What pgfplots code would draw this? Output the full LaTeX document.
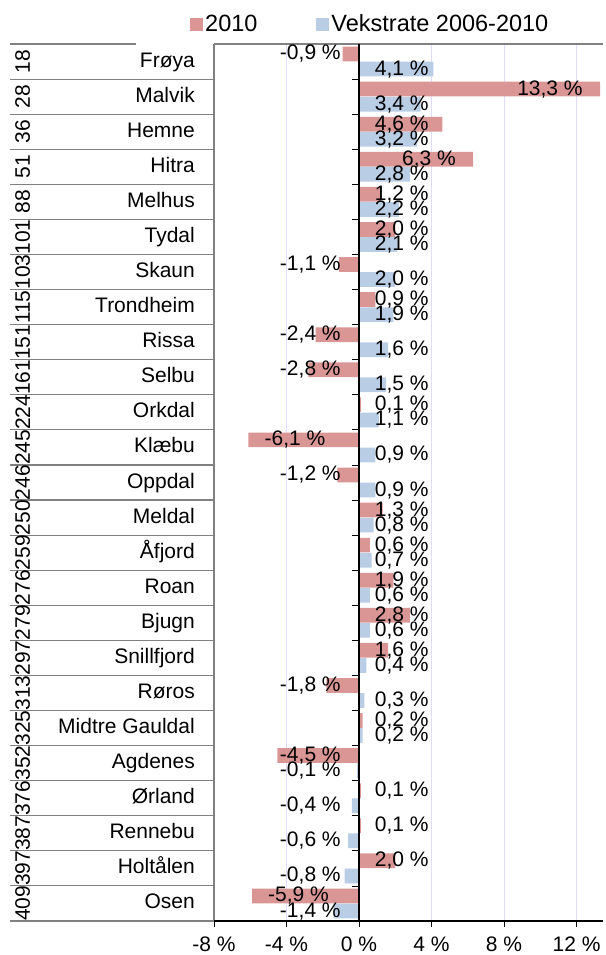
\documentclass[border=0pt]{standalone}
\usepackage{pgfplots}
\pgfplotsset{compat=1.18}
\usepackage{pgfplotstable}
\usepackage{fontspec}
\setmainfont{Liberation Sans}

\definecolor{redbar}{RGB}{217,150,148}
\definecolor{bluebar}{RGB}{185,205,229}
\definecolor{gridc}{RGB}{221,221,248}
\definecolor{tabline}{RGB}{128,128,128}

\pgfplotstableread[col sep=comma]{
rank,name,v2010,vekst
18,Frøya,-0.9,4.1
28,Malvik,13.3,3.4
36,Hemne,4.6,3.2
51,Hitra,6.3,2.8
88,Melhus,1.2,2.2
101,Tydal,2.0,2.1
103,Skaun,-1.1,2.0
115,Trondheim,0.9,1.9
151,Rissa,-2.4,1.6
161,Selbu,-2.8,1.5
224,Orkdal,0.1,1.1
245,Klæbu,-6.1,0.9
246,Oppdal,-1.2,0.9
250,Meldal,1.3,0.8
259,Åfjord,0.6,0.7
276,Roan,1.9,0.6
279,Bjugn,2.8,0.6
297,Snillfjord,1.6,0.4
313,Røros,-1.8,0.3
325,Midtre Gauldal,0.2,0.2
352,Agdenes,-4.5,-0.1
376,Ørland,0.1,-0.4
387,Rennebu,0.1,-0.6
397,Holtålen,2.0,-0.8
409,Osen,-5.9,-1.4
}\kommuner

\newcommand{\lblfont}{\fontsize{21}{25}\selectfont}

\begin{document}
\begin{tikzpicture}
\begin{axis}[
    scale only axis, width=389pt, height=877pt,
    xmin=-8, xmax=13.46, ymin=-0.5, ymax=24.5, y dir=reverse,
    axis line style={draw=none},
    clip=false,
    xtick={-8,-4,0,4,8,12}, xtick pos=bottom,
    xticklabel={\pgfmathprintnumber{\tick}~\%},
    xticklabel style={inner sep=0pt, yshift=-10pt},
    xtick style={draw=black, line width=0.8pt},
    ytick={0,...,24}, yticklabels from table={\kommuner}{name},
    ytick pos=left, ytick style={draw=none},
    yticklabel style={inner sep=0pt, xshift=-13pt, text height=15pt, text depth=4pt},
    tick align=outside, major tick length=6pt,
    tick label style={font=\lblfont},
    xmajorgrids, major grid style={draw=gridc, line width=0.9pt},
    /pgf/number format/assume math mode=true,
    legend columns=2,
    legend style={at={(axis description cs:0,1)}, anchor=west, xshift=-24pt, yshift=20pt,
        draw=none, fill=none, inner sep=0pt, font=\fontsize{23.5}{28}\selectfont,
        nodes={inner sep=2pt},
        /tikz/every even column/.append style={column sep=57pt}},
    legend image code/.code={\fill[#1] (0pt,-7pt) rectangle (13pt,6pt);},
]
\addplot[xbar, bar width=0.42, bar shift=-0.215, fill=redbar, draw=none]
    table[x=v2010, y expr=\coordindex] {\kommuner};
\addplot[xbar, bar width=0.42, bar shift=0.215, fill=bluebar, draw=none]
    table[x=vekst, y expr=\coordindex] {\kommuner};
\legend{2010, Vekstrate 2006-2010}

% data labels
\addplot[draw=none, forget plot, point meta=\thisrow{v2010},
    nodes near coords={\pgfmathprintnumber[fixed,fixed zerofill,precision=1,use comma]{\pgfplotspointmeta}~\%},
    every node near coord/.append style={anchor=east, inner sep=0pt, font=\lblfont, text height=15pt, text depth=3pt}]
    table[x expr={\thisrow{v2010}>0 ? max(\thisrow{v2010}-0.95,3.85) : min(\thisrow{v2010}+4.25,-1.0)},
          y expr=\coordindex-0.215] {\kommuner};
\addplot[draw=none, forget plot, point meta=\thisrow{vekst},
    nodes near coords={\pgfmathprintnumber[fixed,fixed zerofill,precision=1,use comma]{\pgfplotspointmeta}~\%},
    every node near coord/.append style={anchor=east, inner sep=0pt, font=\lblfont, text height=15pt, text depth=3pt}]
    table[x expr={\thisrow{vekst}>0 ? max(\thisrow{vekst}-0.95,3.85) : min(\thisrow{vekst}+4.25,-1.0)},
          y expr=\coordindex+0.215] {\kommuner};

% rank column
\addplot[draw=none, forget plot, point meta=explicit symbolic,
    nodes near coords={\pgfplotspointmeta},
    every node near coord/.append style={anchor=center, rotate=90, inner sep=0pt, font=\lblfont}]
    table[x expr=-18.55, y expr=\coordindex, meta=rank] {\kommuner};

% frame, zero axis and table lines
\draw[tabline, line width=2.2pt] (axis description cs:0,0) -- (axis description cs:0,1);
\draw[tabline, line width=1.1pt] (axis description cs:0,1) -- (axis description cs:1,1);
\draw[tabline, line width=1.1pt] ([xshift=-204pt]axis description cs:0,1) -- ([xshift=-78pt]axis description cs:0,1);
\draw[black, line width=1.6pt] (axis description cs:0,0) -- (axis description cs:1,0);
\draw[black, line width=1.1pt] (axis cs:0,-0.5) -- (axis cs:0,24.5);
\pgfplotsinvokeforeach{0.5,1.5,...,24.5}{
    \draw[tabline, line width=1.1pt] (axis cs:-8,#1) -- ([xshift=-204pt]axis cs:-8,#1);
    \draw[black, line width=0.8pt] (axis cs:0,#1) -- ([xshift=-7pt]axis cs:0,#1);
}
\coordinate (SW) at (axis description cs:0,0);
\end{axis}
\pgfresetboundingbox
\useasboundingbox (SW) ++(-214pt,-34pt) rectangle ++(605pt,955pt);
\end{tikzpicture}
\end{document}
